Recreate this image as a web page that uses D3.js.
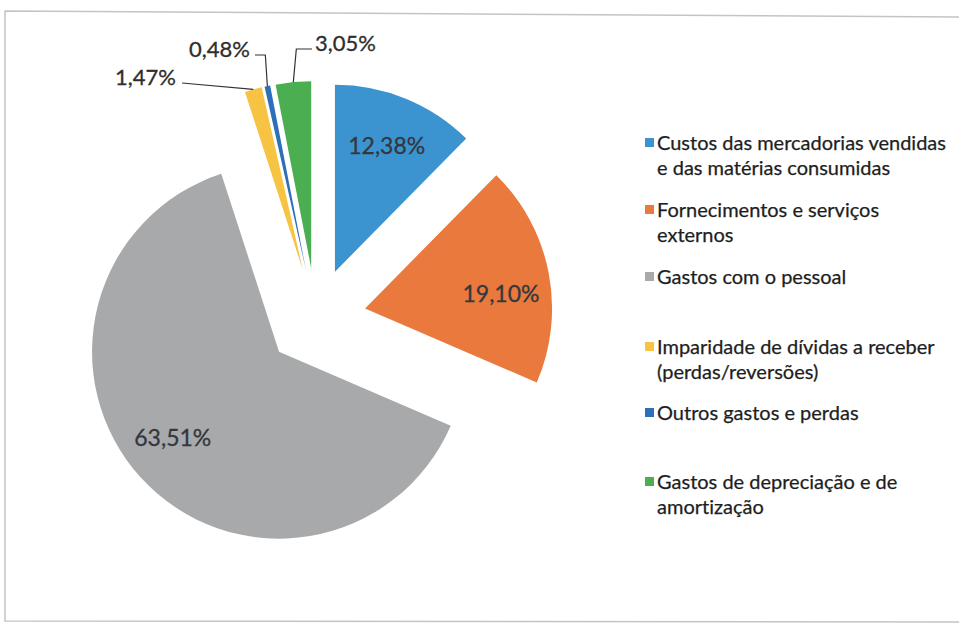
<!DOCTYPE html>
<html>
<head>
<meta charset="utf-8">
<script src="https://cdn.jsdelivr.net/npm/d3@7"></script>
<style>
  body { margin: 0; background: #fff; }
  svg { display: block; }
  text { font-variant-ligatures: none; font-feature-settings: "liga" 0; }
</style>
</head>
<body>
<svg id="canvas" width="959" height="623"></svg>
<script>
// chart data
var categories = [
  ["Custos das mercadorias vendidas", "e das matérias consumidas"],
  ["Fornecimentos e serviços", "externos"],
  ["Gastos com o pessoal"],
  ["Imparidade de dívidas a receber", "(perdas/reversões)"],
  ["Outros gastos e perdas"],
  ["Gastos de depreciação e de", "amortização"]
];
var values = [12.38, 19.10, 63.51, 1.47, 0.48, 3.05];
var labels = ["12,38%", "19,10%", "63,51%", "1,47%", "0,48%", "3,05%"];
var colors = ["#3b94d0", "#e9793d", "#a8a9ab", "#f6c342", "#2d6fb8", "#4bae50"];

var svg = d3.select("#canvas");
var width = +svg.attr("width");
var height = +svg.attr("height");

svg.append("rect").attr("width", width).attr("height", height).attr("fill", "#fff");

// scanned frame
svg.append("path")
  .attr("d", "M962,17 L5,11 L5,621 L962,622")
  .attr("fill", "none")
  .attr("stroke", "#c4c4c4")
  .attr("stroke-width", 1.5);

// pie layout
var cx = 316, cy = 318;
var radius = 187;
var explode = 50;

var pie = d3.pie().sort(null).value(function(d) { return d; });
var arcs = pie(values);
var arc = d3.arc().innerRadius(0).outerRadius(radius);

function midAngle(d) { return (d.startAngle + d.endAngle) / 2; }
function dirOf(a) { return [Math.sin(a), -Math.cos(a)]; }

var g = svg.append("g").attr("transform", "translate(" + cx + "," + cy + ")");

g.selectAll("path.slice")
  .data(arcs)
  .enter().append("path")
  .attr("class", "slice")
  .attr("d", arc)
  .attr("fill", function(d, i) { return colors[i]; })
  .attr("transform", function(d) {
    var v = dirOf(midAngle(d));
    return "translate(" + (v[0] * explode) + "," + (v[1] * explode) + ")";
  });

// labels inside the big slices
var insideR = 0.73;
var angleNudge = [0, 3.7, 2.5];   // degrees, best-fit placement
var fontStack = "Lato, 'Open Sans', sans-serif";

arcs.slice(0, 3).forEach(function(d, i) {
  var v = dirOf(midAngle(d) + angleNudge[i] * Math.PI / 180);
  var r = explode + radius * insideR;
  g.append("text")
    .attr("x", v[0] * r)
    .attr("y", v[1] * r)
    .attr("text-anchor", "middle")
    .attr("dy", "0.36em")
    .style("font-family", fontStack)
    .style("font-size", "23px")
    .style("fill", "#33383f")
    .style("stroke", "#33383f")
    .style("stroke-width", 0.3)
    .text(labels[i]);
});

// labels with leader lines for the thin slices
var callout = [
  {i: 3, tx: 176, ty: 77, anchor: "end", ex: 182, ey: 83},
  {i: 4, tx: 250, ty: 49, anchor: "end", ex: 255, ey: 55},
  {i: 5, tx: 315, ty: 43, anchor: "start", ex: 312, ey: 49}
];

callout.forEach(function(c) {
  var d = arcs[c.i];
  var v = dirOf(midAngle(d));
  var px = cx + v[0] * (explode + radius);
  var py = cy + v[1] * (explode + radius);
  var pts;
  if (c.i === 3) {
    pts = [[c.ex, c.ey], [px, py]];
  } else {
    var hx = c.anchor === "end" ? px - 2 : px + 3;
    pts = [[c.ex, c.ey], [hx, c.ey], [px, py]];
  }
  svg.append("path")
    .attr("d", d3.line()(pts))
    .attr("fill", "none")
    .attr("stroke", "#333")
    .attr("stroke-width", 1.2);

  svg.append("text")
    .attr("x", c.tx)
    .attr("y", c.ty)
    .attr("text-anchor", c.anchor)
    .attr("dy", "0.36em")
    .style("font-family", fontStack)
    .style("font-size", "22px")
    .style("fill", "#2e2e2e")
    .style("stroke", "#2e2e2e")
    .style("stroke-width", 0.3)
    .text(labels[c.i]);
});

// legend
var legendY = [143, 210, 277, 347, 413, 482];
var lineH = 25;
var legend = svg.append("g");

categories.forEach(function(lines, i) {
  legend.append("rect")
    .attr("x", 645)
    .attr("y", legendY[i] - 5)
    .attr("width", 9)
    .attr("height", 9)
    .attr("fill", colors[i]);

  lines.forEach(function(t, k) {
    legend.append("text")
      .attr("x", 657)
      .attr("y", legendY[i] + k * lineH)
      .attr("dy", "0.36em")
      .style("font-family", fontStack)
      .style("font-size", "20px")
      .style("fill", "#1e1e1e")
      .style("stroke", "#1e1e1e")
      .style("stroke-width", 0.25)
      .text(t);
  });
});
</script>
</body>
</html>
